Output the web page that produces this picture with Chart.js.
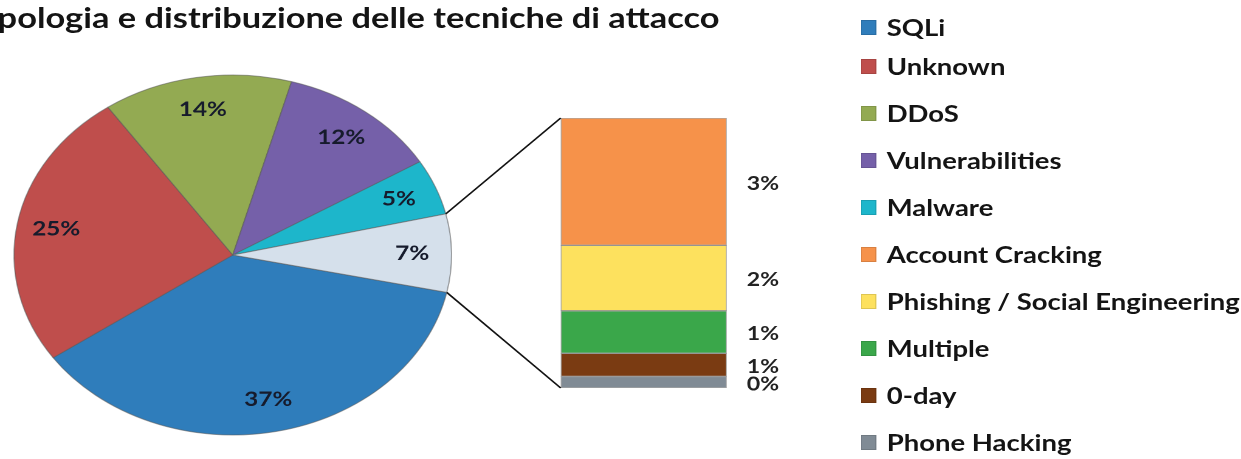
<!DOCTYPE html>
<html>
<head>
<meta charset="utf-8">
<script src="https://cdn.jsdelivr.net/npm/chart.js@4.4.1/dist/chart.umd.min.js"></script>
<style>
    body { margin: 0; background: #fff; overflow: hidden; }
    #lienzo {
        position: relative;
        width: 1021px;
        height: 459px;
        transform: scaleX(1.2155);
        transform-origin: 0 0;
        font-family: Lato, "Liberation Sans", Arial, sans-serif;
    }
    #lienzo canvas { position: absolute; left: 0; top: 0; }
    #titolo {
        position: absolute;
        left: -26px;
        top: 3px;
        font-size: 28.3px;
        line-height: 28px;
        font-weight: bold;
        color: #141414;
        white-space: nowrap;
    }
    #legenda {
        position: absolute;
        left: 708px;
        top: 12.5px;
        margin: 0;
        padding: 0;
        list-style: none;
    }
    #legenda li {
        display: flex;
        align-items: center;
        height: 47.1px;
        font-size: 22.6px;
        font-weight: bold;
        color: #141414;
        white-space: nowrap;
    }
    #legenda li:first-child { height: 30px; }
    #legenda .quadrato {
        width: 13px;
        height: 15px;
        margin-right: 8.5px;
        box-sizing: border-box;
        border: 1px solid rgba(0, 0, 0, 0.12);
    }
</style>
</head>
<body>
<div id="lienzo">
    <div id="titolo">Tipologia e distribuzione delle tecniche di attacco</div>
    <canvas id="torta" width="1021" height="459"></canvas>
    <canvas id="barra" width="1021" height="459"></canvas>
    <ul id="legenda"></ul>
</div>
<script>
// torta principale (percentuali)
const pieLabels = ['SQLi', 'Unknown', 'DDoS', 'Vulnerabilities', 'Malware', 'Altre tecniche'];
const pieValues = [37, 25, 14, 12, 5, 7];
const pieColors = ['#2f7dbb', '#bf4e4c', '#93aa52', '#7560a9', '#1db6cb', '#d5e0eb'];

// dettaglio della fetta "altre tecniche"
const barLabels = ['Account Cracking', 'Phishing / Social Engineering', 'Multiple', '0-day', 'Phone Hacking'];
const barValues = [3.3, 1.7, 1.1, 0.6, 0.3];
const barColors = ['#f6924a', '#fde15e', '#3aa74a', '#7a3b12', '#808b95'];

const FONT = 'Lato, "Liberation Sans", Arial, sans-serif';
const totaleBarra = barValues.reduce((a, b) => a + b, 0);

const etichetteTorta = {
    id: 'etichetteTorta',
    afterDatasetsDraw(chart) {
        const ctx = chart.ctx;
        const meta = chart.getDatasetMeta(0);
        ctx.save();
        ctx.font = 'bold 20px ' + FONT;
        ctx.fillStyle = '#161b2c';
        ctx.textAlign = 'center';
        ctx.textBaseline = 'middle';
        meta.data.forEach((arc, i) => {
            const p = arc.getProps(['x', 'y', 'startAngle', 'endAngle', 'outerRadius'], true);
            const a = (p.startAngle + p.endAngle) / 2;
            const r = p.outerRadius * 0.82;
            ctx.fillText(Math.round(pieValues[i]) + '%', p.x + Math.cos(a) * r, p.y + Math.sin(a) * r);
        });
        ctx.restore();
    }
};

const pieChart = new Chart(document.getElementById('torta'), {
    type: 'pie',
    data: {
        labels: pieLabels,
        datasets: [{
            data: pieValues,
            backgroundColor: pieColors,
            borderColor: 'rgba(90, 90, 90, 0.55)',
            borderWidth: 1
        }]
    },
    options: {
        responsive: false,
        animation: false,
        devicePixelRatio: 2,
        rotation: 102,
        layout: { padding: { left: 11, right: 649, top: 74.5, bottom: 23.5 } },
        plugins: { legend: { display: false }, tooltip: { enabled: false } }
    },
    plugins: [etichetteTorta]
});

// la barra impila dal basso: Phone Hacking sotto, Account Cracking in cima
const datasetsBarra = barLabels.map((lab, i) => ({
    label: lab,
    data: [barValues[i]],
    backgroundColor: barColors[i],
    borderColor: 'rgba(110, 110, 110, 0.6)',
    borderWidth: 1,
    borderSkipped: false,
    barPercentage: 1,
    categoryPercentage: 1
})).reverse();

const etichetteBarra = {
    id: 'etichetteBarra',
    afterDatasetsDraw(chart) {
        const ctx = chart.ctx;
        ctx.save();
        ctx.font = 'bold 19px ' + FONT;
        ctx.fillStyle = '#222';
        ctx.textAlign = 'left';
        ctx.textBaseline = 'middle';
        chart.data.datasets.forEach((ds, i) => {
            const el = chart.getDatasetMeta(i).data[0];
            const p = el.getProps(['x', 'y', 'base', 'width'], true);
            ctx.fillText(Math.round(ds.data[0]) + '%', p.x + p.width / 2 + 16.5, (p.y + p.base) / 2 + 2);
        });
        ctx.restore();
    }
};

// linee che collegano la fetta di dettaglio alla barra
const connettori = {
    id: 'connettori',
    afterDraw(chart) {
        const arc = pieChart.getDatasetMeta(0).data[pieValues.length - 1];
        const a = arc.getProps(['x', 'y', 'startAngle', 'endAngle', 'outerRadius'], true);
        const n = chart.data.datasets.length;
        const cima = chart.getDatasetMeta(n - 1).data[0].getProps(['x', 'y', 'width'], true);
        const fondo = chart.getDatasetMeta(0).data[0].getProps(['x', 'base', 'width'], true);
        const ctx = chart.ctx;
        ctx.save();
        ctx.strokeStyle = '#111';
        ctx.lineWidth = 1.5;
        ctx.beginPath();
        ctx.moveTo(a.x + Math.cos(a.startAngle) * a.outerRadius, a.y + Math.sin(a.startAngle) * a.outerRadius);
        ctx.lineTo(cima.x - cima.width / 2, cima.y);
        ctx.moveTo(a.x + Math.cos(a.endAngle) * a.outerRadius, a.y + Math.sin(a.endAngle) * a.outerRadius);
        ctx.lineTo(fondo.x - fondo.width / 2, fondo.base);
        ctx.stroke();
        ctx.restore();
    }
};

const barChart = new Chart(document.getElementById('barra'), {
    type: 'bar',
    data: { labels: [''], datasets: datasetsBarra },
    options: {
        responsive: false,
        animation: false,
        devicePixelRatio: 2,
        layout: { padding: { left: 461.3, right: 423.1, top: 118, bottom: 71 } },
        scales: {
            x: { stacked: true, display: false },
            y: { stacked: true, display: false, min: 0, max: totaleBarra }
        },
        plugins: { legend: { display: false }, tooltip: { enabled: false } }
    },
    plugins: [etichetteBarra, connettori]
});

// legenda: prime cinque voci della torta, poi le voci della barra
const legenda = document.getElementById('legenda');
const vociLegenda = pieLabels.slice(0, 5).map((l, i) => [l, pieColors[i]])
    .concat(barLabels.map((l, i) => [l, barColors[i]]));
vociLegenda.forEach(([testo, colore]) => {
    const li = document.createElement('li');
    li.innerHTML = `<span class="quadrato" style="background:${colore}"></span>${testo}`;
    legenda.appendChild(li);
});
</script>
</body>
</html>
